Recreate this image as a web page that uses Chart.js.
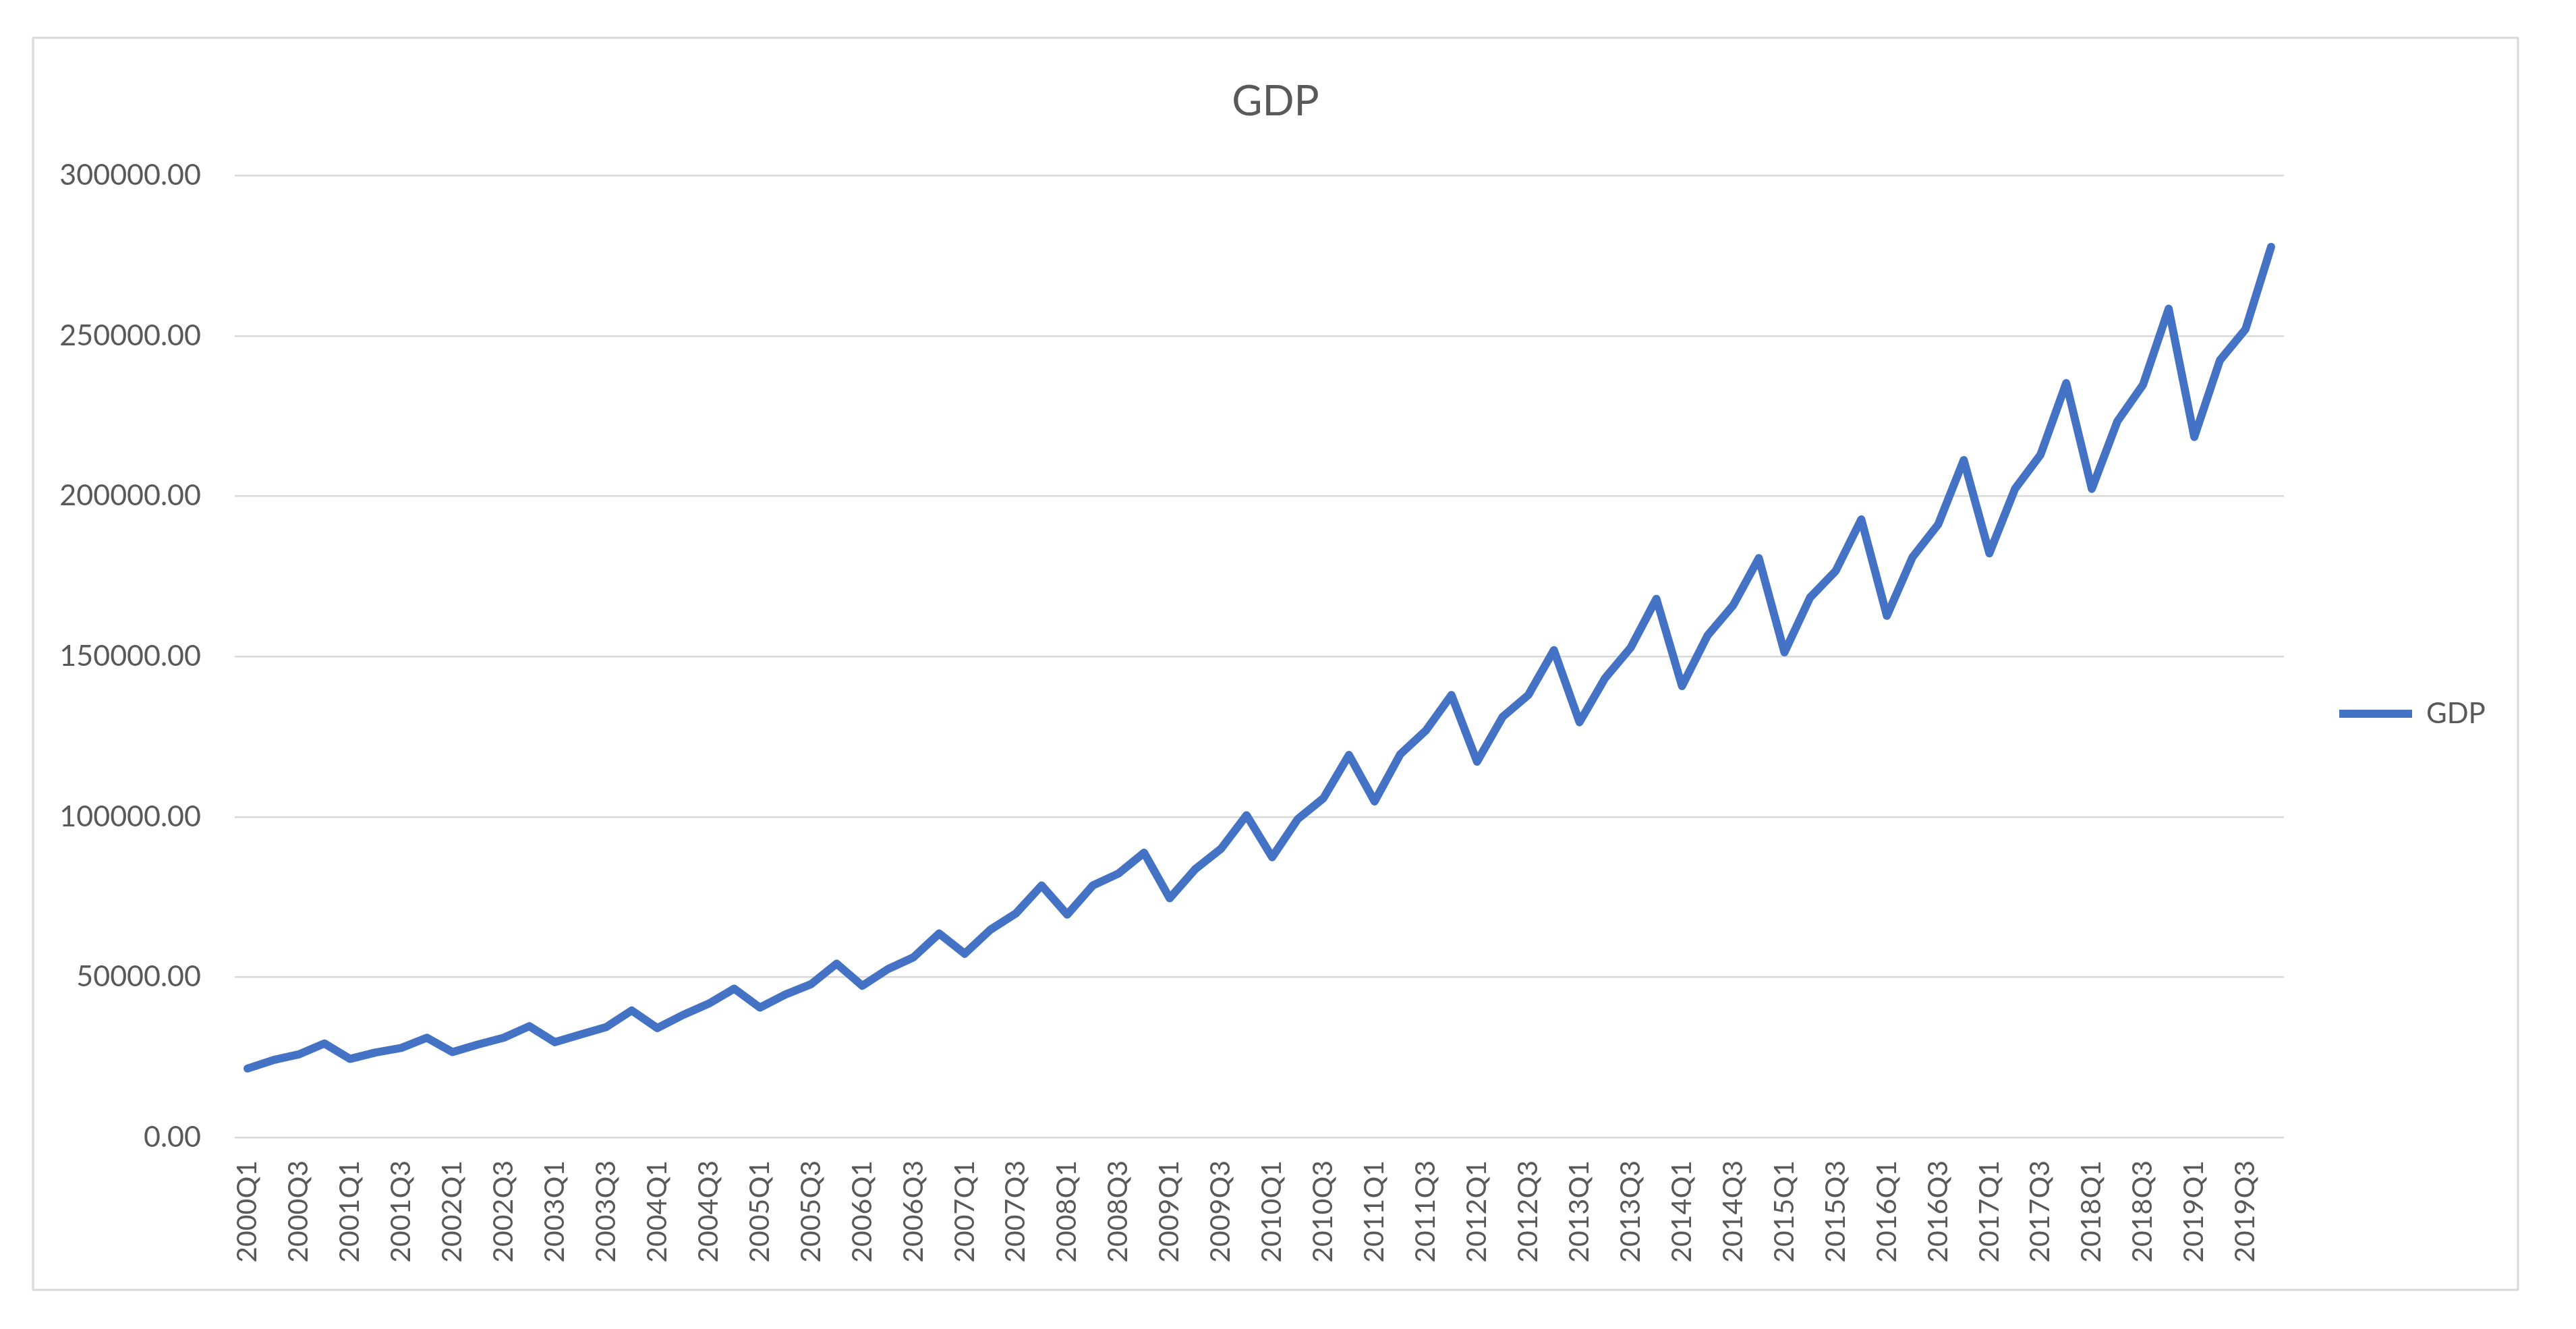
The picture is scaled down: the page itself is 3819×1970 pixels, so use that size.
<!DOCTYPE html>
<html>
<head>
<meta charset="utf-8">
<title>GDP</title>
<script src="https://cdn.jsdelivr.net/npm/chart.js@4/dist/chart.umd.min.js"></script>
<style>
  html, body { margin: 0; padding: 0; background: #ffffff; overflow: hidden; }
  #gdpChart { display: block; }
</style>
</head>
<body>
<canvas id="gdpChart" width="3819" height="1970"></canvas>
<script>
// jaren en kwartalen voor de categorie-as
const jaren = ["2000", "2001", "2002", "2003", "2004", "2005", "2006", "2007", "2008", "2009",
               "2010", "2011", "2012", "2013", "2014", "2015", "2016", "2017", "2018", "2019"];
const kwartalen = ["Q1", "Q2", "Q3", "Q4"];

// GDP per kwartaal
const gdpWaarden = [
  21500, 24100, 25900, 29300,
  24500, 26500, 27900, 31100,
  26600, 29000, 31100, 34700,
  29700, 32100, 34400, 39600,
  34100, 38200, 41700, 46400,
  40500, 44600, 47800, 54200,
  47300, 52500, 56200, 63600,
  57300, 64800, 69900, 78600,
  69500, 78600, 82300, 88800,
  74600, 83700, 90000, 100500,
  87400, 99300, 105800, 119300,
  104800, 119500, 126900, 138000,
  117200, 131200, 138000, 152000,
  129500, 143300, 152800, 168000,
  140800, 156600, 166000, 180700,
  151300, 168400, 176700, 192800,
  162700, 181000, 191200, 211300,
  182200, 202300, 213000, 235300,
  202300, 223400, 234800, 258500,
  218500, 242400, 252100, 277800
];

// y-as ticks
const yTicks = [0, 50000, 100000, 150000, 200000, 250000, 300000];
// alleen Q1 en Q3 krijgen een label op de x-as
const zichtbareKwartalen = ["Q1", "Q3"];

const labels = [];
jaren.forEach(j => kwartalen.forEach(q => labels.push(j + q)));

const tekstKleur = '#595959';
const lijnKleur = '#4472C4';
const rasterKleur = '#D9D9D9';
const font = 'Lato';

// kader van de grafiek (Excel-stijl)
const kader = { left: 49, top: 56, right: 3733, bottom: 1912 };

// witte achtergrond + lichtgrijze rand om de hele grafiek
const kaderPlugin = {
  id: 'kader',
  beforeDraw(chart) {
    const ctx = chart.ctx;
    ctx.save();
    ctx.fillStyle = '#ffffff';
    ctx.fillRect(0, 0, chart.width, chart.height);
    ctx.strokeStyle = rasterKleur;
    ctx.lineWidth = 3;
    ctx.strokeRect(kader.left, kader.top, kader.right - kader.left, kader.bottom - kader.top);
    ctx.restore();
  }
};

// titel centreren op het kader en legenda verticaal centreren onder de titel
const positiePlugin = {
  id: 'positie',
  afterLayout(chart) {
    chart.titleBlock.left = kader.left;
    chart.titleBlock.right = kader.right;
    chart.titleBlock.width = kader.right - kader.left;
    chart.legend.top = 204;
    chart.legend.bottom = kader.bottom;
    chart.legend.height = chart.legend.bottom - chart.legend.top;
  }
};

const ctx = document.getElementById('gdpChart').getContext('2d');
new Chart(ctx, {
  type: 'line',
  data: {
    labels: labels,
    datasets: [{
      label: 'GDP',
      data: gdpWaarden,
      borderColor: lijnKleur,
      backgroundColor: lijnKleur,
      borderWidth: 12,
      borderCapStyle: 'round',
      borderJoinStyle: 'round',
      pointRadius: 0,
      tension: 0,
      fill: false
    }]
  },
  options: {
    responsive: false,
    animation: false,
    devicePixelRatio: 1,
    layout: {
      padding: { top: 56, left: 50, right: 133, bottom: 40 }
    },
    scales: {
      x: {
        offset: true,
        grid: { display: false, drawTicks: false },
        border: { display: false },
        afterFit: scale => { scale.height = 244; },
        ticks: {
          autoSkip: false,
          minRotation: 90,
          maxRotation: 90,
          padding: 34,
          color: tekstKleur,
          font: { family: font, size: 41 },
          callback: function (value, index) {
            const lbl = labels[index];
            return zichtbareKwartalen.includes(lbl.slice(4)) ? lbl : '';
          }
        }
      },
      y: {
        min: 0,
        max: 300000,
        afterBuildTicks: scale => { scale.ticks = yTicks.map(v => ({ value: v })); },
        afterFit: scale => { scale.width = 298; },
        grid: { color: rasterKleur, lineWidth: 2.5, drawTicks: false },
        border: { display: false },
        ticks: {
          padding: 50,
          color: tekstKleur,
          font: { family: font, size: 43 },
          callback: v => Number(v).toFixed(2)
        }
      }
    },
    plugins: {
      title: {
        display: true,
        text: 'GDP',
        color: tekstKleur,
        font: { family: font, size: 62, weight: 'normal' },
        padding: { top: 58, bottom: 72 }
      },
      legend: {
        display: true,
        position: 'right',
        align: 'center',
        maxWidth: 300,
        labels: {
          usePointStyle: true,
          pointStyle: 'line',
          pointStyleWidth: 108,
          padding: 82,
          color: tekstKleur,
          font: { family: font, size: 42 }
        }
      },
      tooltip: { enabled: false }
    }
  },
  plugins: [kaderPlugin, positiePlugin]
});
</script>
</body>
</html>
